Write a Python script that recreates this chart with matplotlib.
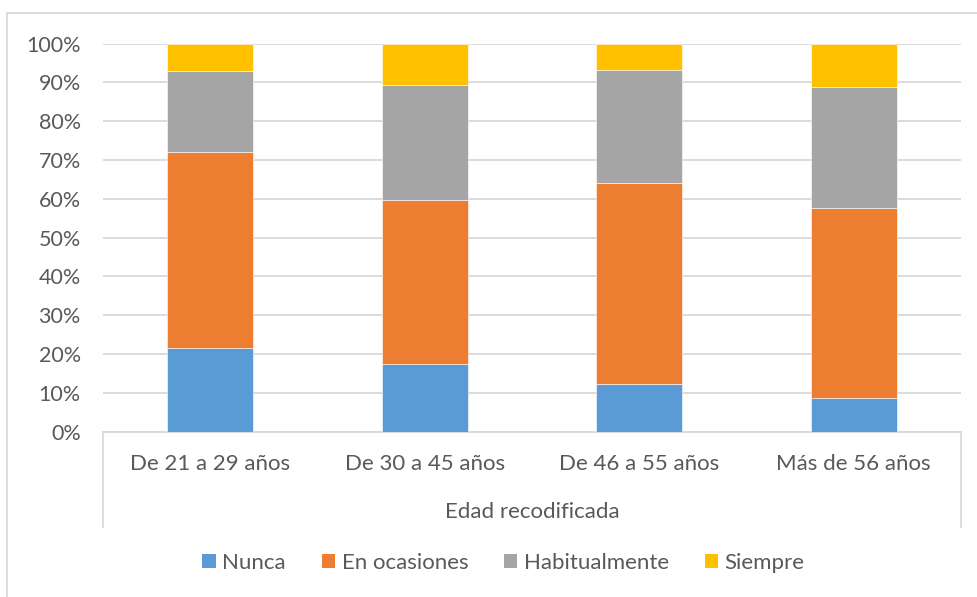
import numpy as np
import matplotlib.pyplot as plt
from matplotlib.patches import Rectangle, Patch
from matplotlib.lines import Line2D
from matplotlib.ticker import PercentFormatter

plt.rcParams['font.family'] = ['Lato', 'DejaVu Sans']

# Datos (porcentajes por grupo de edad)
grupos = ["De 21 a 29 años", "De 30 a 45 años", "De 46 a 55 años", "Más de 56 años"]
nunca = [21.6, 17.4, 12.2, 8.6]
en_ocasiones = [50.4, 42.2, 51.8, 49.1]
habitualmente = [20.9, 29.7, 29.1, 31.1]
siempre = [7.1, 10.7, 6.9, 11.2]

series = ["Nunca", "En ocasiones", "Habitualmente", "Siempre"]
colores = ["#5B9BD5", "#ED7D31", "#A5A5A5", "#FFC000"]
texto = "#595959"
linea = "#D9D9D9"
fs = 16

W, H = 978, 597
fig = plt.figure(figsize=(W / 100, H / 100), dpi=100)

# marco del gráfico
fig.patches.append(Rectangle((7 / W, -0.1), 1.2, 1 - 13 / H + 0.1, transform=fig.transFigure,
                             fill=False, edgecolor=linea, linewidth=1.3))

ax = fig.add_axes([103 / W, 1 - 431.5 / H, (961 - 103) / W, (431.5 - 43.7) / H])

x = np.arange(len(grupos))
base = np.zeros(len(grupos))
for nombre, vals, col in zip(series, [nunca, en_ocasiones, habitualmente, siempre], colores):
    vals = np.array(vals)
    ax.bar(x, vals, 0.4, bottom=base, color=col, edgecolor="white", linewidth=0.4, zorder=3)
    base += vals

ax.set_xlim(-0.5, 3.5)
ax.set_ylim(0, 100)
ax.set_yticks(np.arange(0, 101, 10))
ax.yaxis.set_major_formatter(PercentFormatter(decimals=0))
ax.grid(axis="y", color=linea, linewidth=1.3, zorder=0)
for s in ["top", "right", "left"]:
    ax.spines[s].set_visible(False)
ax.spines["bottom"].set_color(linea)
ax.spines["bottom"].set_linewidth(1.3)
ax.tick_params(axis="y", length=0, pad=16, labelsize=15.5, labelcolor=texto)
ax.set_xticks([])

# eje de categorías con dos niveles
tr = ax.get_xaxis_transform()
for xv in [-0.5, 3.5]:
    ax.add_line(Line2D([xv, xv], [0, -(527 - 431.5) / 387.8], transform=tr,
                       color=linea, linewidth=1.3, clip_on=False))
for xi, g in zip(x, grupos):
    ax.text(xi, -(464 - 431.5) / 387.8, g, transform=tr, ha="center", va="center",
            fontsize=fs, color=texto)
ax.text(1.5, -(512 - 431.5) / 387.8, "Edad recodificada", transform=tr, ha="center",
        va="center", fontsize=fs, color=texto)

handles = [Patch(facecolor=c, edgecolor="none") for c in colores]
fig.legend(handles, series, loc="center", bbox_to_anchor=(503.5 / W, 1 - 563 / H), ncol=4,
           frameon=False, fontsize=fs, labelcolor=texto, handlelength=0.6, handleheight=0.6,
           handletextpad=0.3, columnspacing=1.6)

fig.savefig("out.png", dpi=100)
